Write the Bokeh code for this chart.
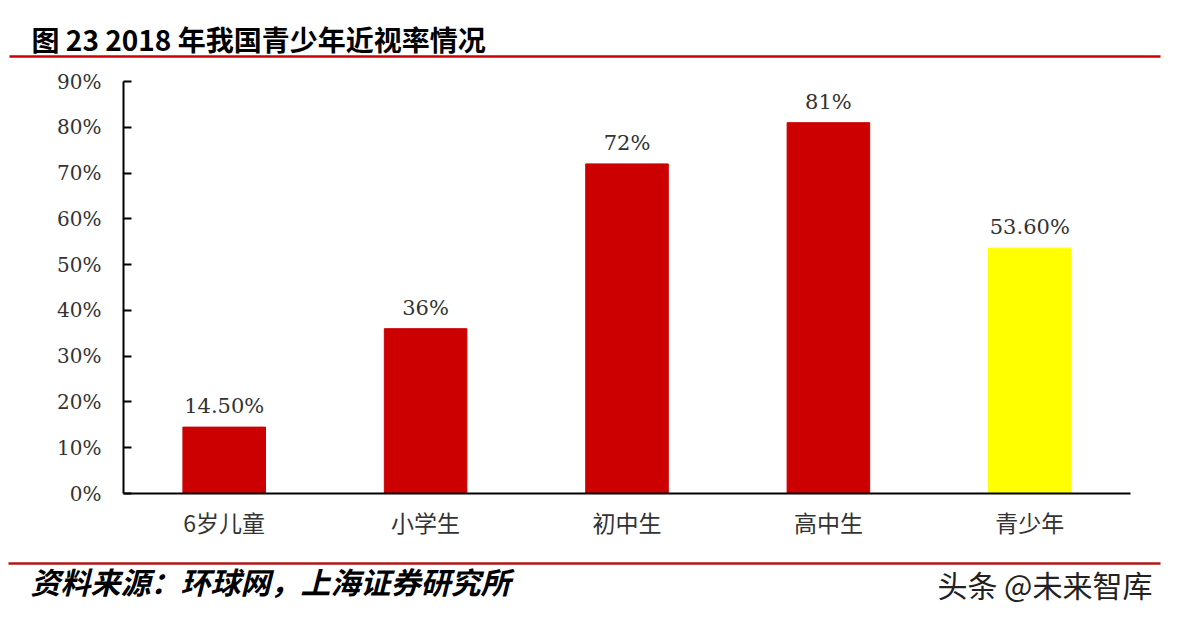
from bokeh.plotting import figure
from bokeh.layouts import column
from bokeh.models import Range1d, FactorRange, FixedTicker, ColumnDataSource
from bokeh.core.properties import value
from bokeh.embed import file_html
from bokeh.resources import INLINE

# ---- data ----
categories = ["6岁儿童", "小学生", "初中生", "高中生", "青少年"]
rates = [14.5, 36, 72, 81, 53.6]
rate_labels = ["14.50%", "36%", "72%", "81%", "53.60%"]
bar_colors = ["#cc0000", "#cc0000", "#cc0000", "#cc0000", "#ffff00"]
y_ticks = [0, 10, 20, 30, 40, 50, 60, 70, 80, 90]
y_tick_labels = ["0%", "10%", "20%", "30%", "40%", "50%", "60%", "70%", "80%", "90%"]
title_text = "图 23 2018 年我国青少年近视率情况"
source_text = "资料来源：环球网，上海证券研究所"
watermark_text = "头条 @未来智库"

W = 1161
CJK = "Noto Sans CJK SC"
SERIF = "DejaVu Serif"


def blank(height):
    f = figure(width=W, height=height, x_range=Range1d(0, W), y_range=Range1d(height, 0),
               output_backend="svg", toolbar_location=None, title=None,
               x_axis_location=None, y_axis_location=None, frame_align=False,
               min_border=0, min_border_left=0, min_border_right=0,
               min_border_top=0, min_border_bottom=0)
    f.grid.visible = False
    f.outline_line_color = None
    return f

# ---- header ----
hdr = blank(62)
hdr.text(x=[31], y=[38], text=[title_text], text_font=value(CJK), text_font_size="28px",
         text_font_style="bold", text_color="#000000", text_baseline="middle", text_align="left")
hdr.segment(x0=[9], y0=[56], x1=[1160], y1=[56], line_color="#cc0000", line_width=2.5)

# ---- main chart ----
p = figure(width=W, height=486, x_range=FactorRange(*categories, range_padding=0),
           y_range=Range1d(0, 90), output_backend="svg", toolbar_location=None, title=None,
           frame_align=False,
           min_border_left=123, min_border_right=31, min_border_top=19, min_border_bottom=55)
p.outline_line_color = None
p.grid.visible = False

src = ColumnDataSource(dict(cat=categories, rate=rates, lab=rate_labels, col=bar_colors))
p.vbar(x="cat", top="rate", bottom=0, width=0.41, fill_color="col", line_color="col", source=src)
p.text(x="cat", y="rate", text="lab", source=src, y_offset=-9, text_align="center",
       text_baseline="bottom", text_font=value(SERIF), text_font_size="21px", text_color="#333333")

p.yaxis.ticker = FixedTicker(ticks=y_ticks)
p.yaxis.major_label_overrides = {t: l for t, l in zip(y_ticks, y_tick_labels)}
p.yaxis.major_tick_in = 8
p.yaxis.major_tick_out = 0
p.yaxis.minor_tick_line_color = None
p.yaxis.axis_line_width = 2
p.yaxis.major_tick_line_width = 2
p.yaxis.axis_line_color = "#000000"
p.yaxis.major_tick_line_color = "#000000"
p.yaxis.major_label_standoff = 22
p.yaxis.major_label_text_font = SERIF
p.yaxis.major_label_text_font_size = "20px"
p.yaxis.major_label_text_color = "#333333"

p.xaxis.major_tick_line_color = None
p.xaxis.minor_tick_line_color = None
p.xaxis.axis_line_width = 2
p.xaxis.axis_line_color = "#000000"
p.xaxis.major_label_standoff = 5
p.xaxis.major_label_text_font = CJK
p.xaxis.major_label_text_font_size = "23px"
p.xaxis.major_label_text_color = "#333333"

# ---- footer ----
ftr = blank(56)
ftr.segment(x0=[8], y0=[15], x1=[1160], y1=[15], line_color="#b01818", line_width=2.5)
ftr.text(x=[30], y=[32], text=[source_text], text_font=value(CJK), text_font_size="30px",
         text_font_style="bold italic", text_color="#000000", text_baseline="middle", text_align="left")
ftr.text(x=[1152], y=[35], text=[watermark_text], text_font=value(CJK), text_font_size="30px",
         text_color="#222222", text_baseline="middle", text_align="right")

layout = column(hdr, p, ftr, spacing=0)
open("out.html", "w").write(file_html(layout, INLINE))
